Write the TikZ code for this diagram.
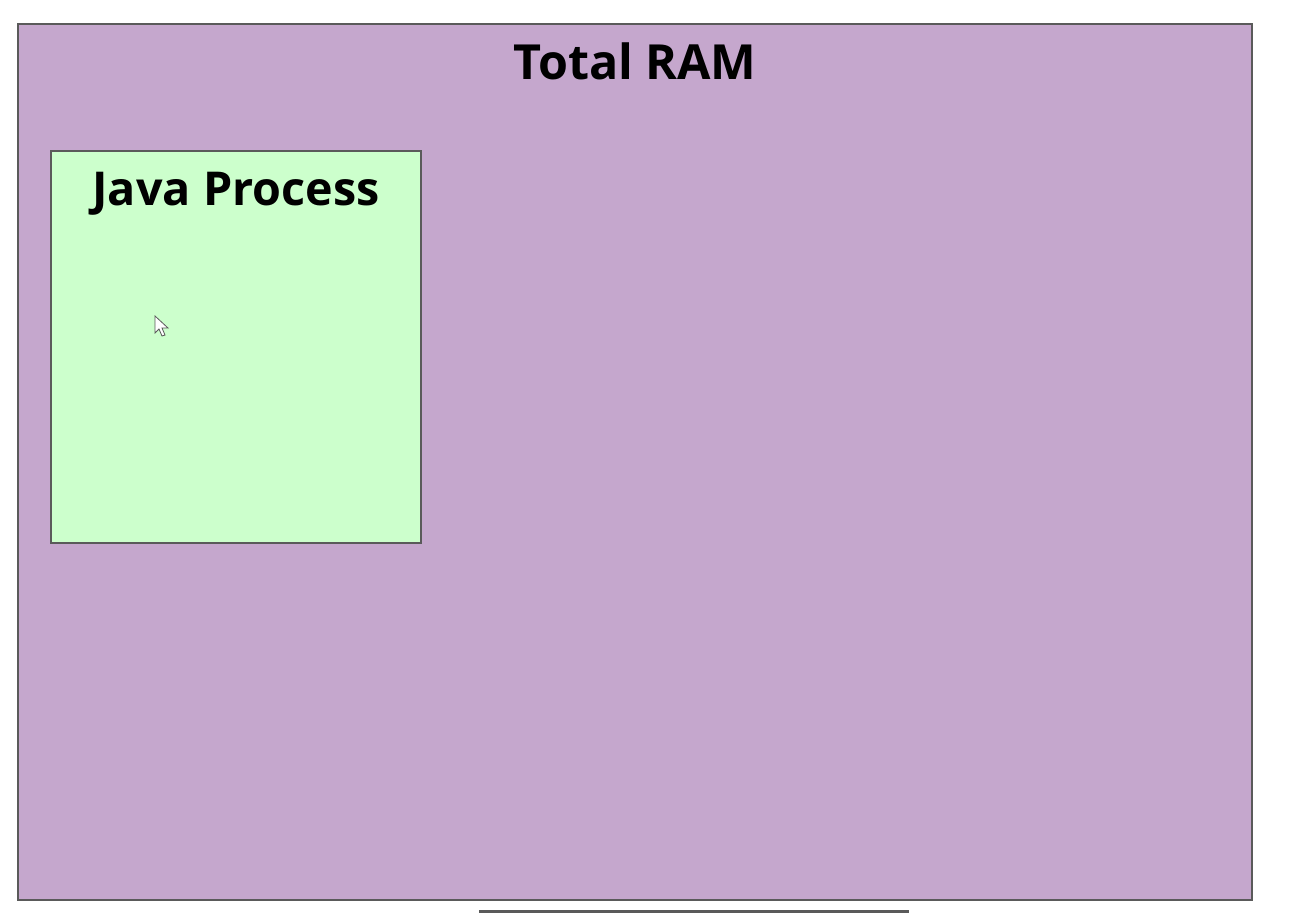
\documentclass[tikz,border=0pt]{standalone}
\usepackage{fontspec}
\setmainfont{Open Sans}
\definecolor{ramfill}{HTML}{C5A7CD}
\definecolor{jvmfill}{HTML}{CCFFCC}
\definecolor{edge}{HTML}{5A5A5A}
\begin{document}
\begin{tikzpicture}[x=0.75pt,y=-0.75pt,
  box/.style={draw=edge,line width=0.9pt},
  title/.style={font=\bfseries,text=black,inner sep=0pt,anchor=base}]
\useasboundingbox (0,0) rectangle (1301,913);
\fill[white] (0,0) rectangle (1301,913);
% Total RAM
\draw[box,fill=ramfill] (18,24) rectangle (1252,900);
\node[title,font=\fontsize{36.3}{38}\selectfont\bfseries] (ram) at (635,80) {Total RAM};
% Java Process
\draw[box,fill=jvmfill] (51,151) rectangle (421,543);
\node[title,font=\fontsize{35}{37}\selectfont\bfseries] (jp) at (236,205) {Java Process};
% cursor
\draw[draw=edge,fill=white,line width=0.6pt,line join=miter]
  (155,316) -- (155,333) -- (159,329) -- (162,336) -- (165,335) -- (162,328) -- (168,328) -- cycle;
% bottom bar
\fill[edge] (479,910) rectangle (909,913);
\end{tikzpicture}
\end{document}
